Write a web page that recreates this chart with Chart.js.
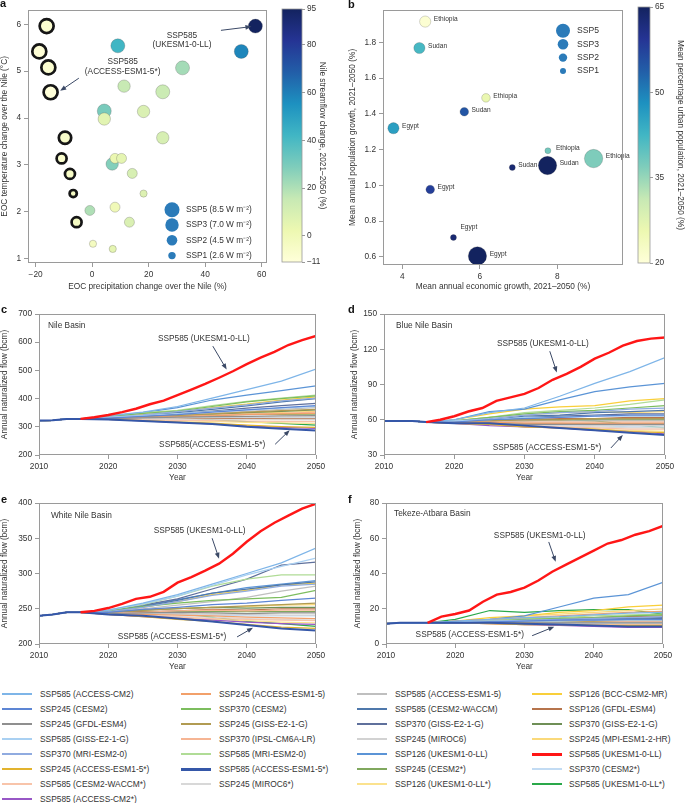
<!DOCTYPE html>
<html lang="en">
<head>
<meta charset="utf-8">
<title>Nile flow scenarios</title>
<script src="https://cdn.jsdelivr.net/npm/chart.js"></script>
<style>
  body { margin: 0; background: #fff; }
  #page { position: relative; width: 685px; height: 803px; overflow: hidden; font-family: "Liberation Sans", Arial, sans-serif; color: #333; }
  #page canvas { position: absolute; }
  .tag { position: absolute; font-weight: bold; font-size: 11px; line-height: 12px; color: #111; }
  .leg { position: absolute; height: 10px; line-height: 10px; font-size: 8.4px; white-space: nowrap; }
  .leg i { position: absolute; left: 0; width: 30px; }
  .leg span { position: absolute; top: 0; }
</style>
</head>
<body>
<div id="page">
  <canvas id="ca" width="280" height="292" style="left:0;top:0"></canvas>
  <canvas id="cabar" width="57" height="300" style="left:270px;top:0"></canvas>
  <canvas id="cb" width="285" height="292" style="left:348px;top:0"></canvas>
  <canvas id="cbbar" width="55" height="300" style="left:630px;top:0"></canvas>
  <canvas id="cc" width="330" height="178" style="left:0;top:305px"></canvas>
  <canvas id="cd" width="330" height="178" style="left:350px;top:305px"></canvas>
  <canvas id="ce" width="330" height="178" style="left:0;top:494px"></canvas>
  <canvas id="cf" width="325" height="178" style="left:353px;top:494px"></canvas>
  <div class="tag" style="left:0;top:-3px">a</div>
  <div class="tag" style="left:348px;top:-2px">b</div>
  <div class="tag" style="left:1px;top:303px">c</div>
  <div class="tag" style="left:348px;top:303px">d</div>
  <div class="tag" style="left:1px;top:493px">e</div>
  <div class="tag" style="left:348px;top:493px">f</div>
  <div id="legend"></div>
</div>
<script>
// ---------- data ----------
// panel a: one bubble per model run
const aPrecip = [-16.1, -18.7, -15.5, -14.7, -9.6, -10.8, -7.85, -6.7, -5.5, 57.8, 52.8, 9.1, 32, 11.3, 25, 4.3, 18.2, 4.3, 25, 7.1, 8.1, 10.4, 14.2, 18.2, 8.1, -0.8, 13.2, 0.3, 7.3];
const aTemp = [5.96, 5.42, 5.08, 4.55, 3.58, 3.14, 2.81, 2.39, 1.78, 5.96, 5.42, 5.54, 5.07, 4.68, 4.56, 4.15, 4.14, 3.98, 3.58, 3.02, 3.14, 3.14, 2.82, 2.39, 2.1, 2.03, 1.78, 1.32, 1.21];
const aFlow = [-8, -10, -8, -11, -6, -7, -5, -4, -4, 95, 58, 42, 22, 15, 14, 30, 9, 6, 10, 28, 3, 5, 10, 8, 0, 20, 9, -3, 5];
const aSsp = [5, 5, 5, 5, 3, 2, 2, 1, 2, 5, 5, 5, 5, 3, 5, 5, 3, 3, 3, 3, 2, 2, 2, 1, 2, 2, 2, 1, 1];
const aOutlined = [1, 1, 1, 1, 1, 1, 1, 1, 1, 0, 0, 0, 0, 0, 0, 0, 0, 0, 0, 0, 0, 0, 0, 0, 0, 0, 0, 0, 0];
const flowTicks = [-11, 0, 20, 40, 60, 80, 95];

// panel b: country x SSP
const bCountry = ['Ethiopia', 'Sudan', 'Ethiopia', 'Sudan', 'Egypt', 'Ethiopia', 'Ethiopia', 'Sudan', 'Sudan', 'Egypt', 'Egypt', 'Egypt'];
const bEcon = [4.59, 4.44, 6.16, 5.6, 3.77, 7.76, 8.94, 6.84, 7.75, 4.72, 5.32, 5.94];
const bPop = [1.917, 1.769, 1.49, 1.412, 1.32, 1.194, 1.15, 1.1, 1.111, 0.977, 0.708, 0.605];
const bUrban = [21, 42, 26, 55, 46, 38, 37, 63, 65, 58, 63, 65];
const bSsp = [3, 3, 2, 2, 3, 1, 5, 1, 5, 2, 1, 5];
const urbanTicks = [20, 35, 50, 65];

// panels c-f: annual naturalized flow (bcm)
const seriesNames = ['SSP585 (ACCESS-CM2)', 'SSP245 (CESM2)', 'SSP245 (GFDL-ESM4)', 'SSP585 (GISS-E2-1-G)', 'SSP370 (MRI-ESM2-0)', 'SSP245 (ACCESS-ESM1-5*)', 'SSP585 (CESM2-WACCM*)', 'SSP585 (ACCESS-CM2*)',
  'SSP245 (ACCESS-ESM1-5)', 'SSP370 (CESM2)', 'SSP245 (GISS-E2-1-G)', 'SSP370 (IPSL-CM6A-LR)', 'SSP585 (MRI-ESM2-0)', 'SSP585 (ACCESS-ESM1-5*)', 'SSP245 (MIROC6*)',
  'SSP585 (ACCESS-ESM1-5)', 'SSP585 (CESM2-WACCM)', 'SSP370 (GISS-E2-1-G)', 'SSP245 (MIROC6)', 'SSP126 (UKESM1-0-LL)', 'SSP245 (CESM2*)', 'SSP126 (UKESM1-0-LL*)',
  'SSP126 (BCC-CSM2-MR)', 'SSP126 (GFDL-ESM4)', 'SSP370 (GISS-E2-1-G)', 'SSP245 (MPI-ESM1-2-HR)', 'SSP585 (UKESM1-0-LL)', 'SSP370 (CESM2*)', 'SSP585 (UKESM1-0-LL*)'];
const histYears = [2010, 2012, 2014, 2016];
const projYears = [2020, 2025, 2030, 2035, 2040, 2045, 2050];
const redYears = [2018, 2020, 2022, 2024, 2026, 2028, 2030, 2032, 2034, 2036, 2038, 2040, 2042, 2044, 2046, 2048, 2050];

const nileHist = [322, 323, 328, 328];
const nileRed = [334, 342, 352, 364, 380, 393, 412, 432, 452, 474, 497, 522, 545, 566, 590, 607, 622];
const nileProj = [
  [340, 352, 372, 402, 432, 462, 505], [331, 337, 343, 352, 360, 368, 375], [329, 332, 334, 336, 337, 339, 340], [333, 340, 347, 354, 360, 366, 372],
  [334, 342, 354, 366, 378, 392, 402], [326, 322, 317, 313, 306, 301, 298], [327, 325, 323, 322, 320, 319, 318], [326, 321, 316, 310, 303, 298, 294],
  [329, 333, 336, 339, 343, 346, 348], [335, 348, 356, 372, 388, 400, 410], [331, 336, 340, 346, 352, 357, 362], [330, 334, 337, 341, 345, 348, 352],
  [336, 350, 358, 375, 390, 402, 412], [326, 321, 315, 310, 300, 293, 287], [327, 326, 326, 325, 326, 325, 325], [330, 334, 340, 348, 355, 362, 368],
  [333, 340, 350, 362, 374, 388, 400], [332, 338, 346, 356, 366, 375, 383], [328, 330, 331, 333, 334, 334, 335], [338, 350, 368, 395, 412, 428, 445],
  [331, 336, 340, 342, 344, 344, 345], [327, 324, 321, 319, 316, 314, 312], [334, 344, 352, 368, 380, 395, 406], [328, 329, 329, 328, 329, 328, 328],
  [330, 333, 338, 344, 350, 355, 360], [332, 337, 342, 345, 348, 351, 355], null, [330, 331, 333, 332, 333, 332, 332], [329, 332, 330, 324, 318, 312, 306]];

const blueHist = [59, 59, 59, 58];
const blueRed = [60, 63, 67, 70, 76, 79, 82, 87, 94, 99, 105, 112, 117, 123, 127, 129, 130];
const blueProj = [
  [60, 66, 70, 80, 91, 101, 113], [58, 60, 61, 62, 63, 64, 64], [57, 57, 56, 56, 56, 56, 56], [59, 60, 62, 62, 63, 63, 63],
  [59, 61, 64, 66, 67, 69, 70], [57, 56, 54, 53, 52, 50, 49], [57, 56, 55, 54, 53, 52, 52], [57, 55, 54, 53, 51, 50, 48],
  [58, 58, 57, 57, 57, 57, 57], [59, 62, 65, 67, 68, 70, 72], [58, 59, 60, 60, 61, 61, 61], [58, 58, 58, 58, 58, 58, 58],
  [59, 62, 66, 68, 70, 73, 77], [57, 57, 55, 53, 51, 49, 47], [57, 56, 55, 55, 54, 53, 53], [58, 58, 59, 59, 59, 59, 59],
  [58, 60, 63, 64, 66, 67, 68], [58, 60, 62, 63, 64, 65, 65], [57, 57, 56, 56, 55, 55, 55], [60, 67, 69, 77, 84, 88, 91],
  [58, 58, 57, 57, 56, 56, 56], [57, 56, 54, 53, 52, 51, 50], [60, 65, 69, 71, 72, 76, 78], [58, 59, 60, 61, 61, 62, 62],
  [58, 59, 59, 60, 60, 60, 60], [59, 62, 64, 66, 67, 66, 67], null, [58, 57, 56, 55, 55, 54, 54], [59, 60, 61, 60, 59, 56, 53]];

const whiteHist = [240, 242, 245, 245];
const whiteRed = [247, 251, 257, 264, 267, 274, 287, 295, 304, 314, 328, 345, 360, 372, 382, 392, 399];
const whiteProj = [
  [248, 258, 270, 285, 300, 315, 336], [245, 249, 252, 256, 258, 262, 265], [243, 244, 245, 244, 243, 244, 244], [248, 257, 268, 283, 298, 310, 322],
  [246, 252, 260, 269, 275, 282, 285], [242, 239, 235, 232, 228, 224, 222], [242, 240, 238, 236, 235, 234, 233], [242, 239, 236, 234, 231, 229, 228],
  [243, 242, 241, 240, 238, 237, 236], [247, 253, 258, 262, 264, 266, 276], [245, 248, 250, 252, 254, 256, 258], [244, 245, 247, 248, 247, 248, 248],
  [248, 256, 268, 282, 292, 298, 298], [242, 240, 236, 232, 227, 222, 219], [243, 241, 239, 238, 236, 235, 234], [245, 250, 255, 260, 266, 275, 282],
  [246, 253, 262, 272, 278, 284, 288], [247, 255, 264, 278, 292, 312, 316], [243, 243, 243, 242, 242, 241, 241], [247, 254, 263, 272, 280, 285, 290],
  [244, 245, 246, 246, 246, 246, 246], [242, 240, 237, 235, 233, 231, 230], [246, 252, 260, 270, 276, 284, 286], [244, 246, 247, 249, 248, 250, 250],
  [245, 248, 250, 252, 251, 252, 252], [244, 248, 251, 252, 253, 255, 256], null, [243, 242, 242, 241, 240, 240, 240], [244, 246, 243, 238, 232, 229, 225]];

const tekezeHist = [11.5, 12, 12, 12];
const tekezeRed = [15.5, 17, 19, 24, 28, 29.5, 32, 36, 41, 45, 49, 53, 57, 59, 62, 64, 67];
const tekezeProj = [
  [13, 14, 15, 15.5, 16.5, 17.5, 18], [12, 12.5, 13, 13.5, 13.5, 14, 14], [12, 12, 12, 12, 12, 12, 12], [12.5, 13, 13, 13, 13.5, 13.5, 13.5],
  [12.5, 13, 13.5, 14, 14.5, 15, 15.5], [12, 11.5, 11, 11, 10.5, 10.5, 10.5], [12, 11.5, 11.5, 11, 11, 11, 11], [12, 11.5, 11, 10.5, 10, 9.5, 9.5],
  [13, 14, 15, 16, 17, 18, 18.5], [12.5, 13, 14, 14.5, 15, 16, 16.5], [12, 12.5, 12.5, 13, 13, 13.5, 13.5], [12, 12.5, 12.5, 13, 13, 13, 13],
  [12.5, 13.5, 14.5, 15, 16, 16.5, 17], [12, 12, 11.5, 11, 10.5, 10, 10], [12, 12, 11.5, 11.5, 11, 11, 11], [12, 12, 12.5, 12.5, 13, 13, 13],
  [12, 13, 13, 14, 14, 14.5, 15], [12, 12.5, 13, 13.5, 14, 14, 14.5], [12, 12, 12, 11.5, 12, 12, 12], [13, 14, 16, 21, 26, 28, 35],
  [12, 12, 12.5, 12.5, 12.5, 12.5, 12.5], [12, 11.5, 11, 11, 10.5, 10.5, 10.5], [13, 15, 16, 18, 19, 21, 22], [12, 13, 13.5, 14, 15, 15.5, 16],
  [12, 12.5, 13, 13, 13.5, 14, 14], [13, 14, 16, 17, 18, 19, 20], null, [12, 12, 12, 11.5, 11.5, 11.5, 11.5], [14, 19, 18, 19, 19.5, 19.5, 17]];

// ---------- styling ----------
const seriesColors = ['#7eb5e8', '#5d86d4', '#8f8f8f', '#a9d0f2', '#90abe0', '#e2b32e', '#f8c4aa', '#9857c6',
  '#f2a06a', '#7cbd5e', '#b19b52', '#f6b594', '#b0dc96', '#3557a8', '#d8d8d8',
  '#bfbfbf', '#4f78ab', '#5f709c', '#d2d2d2', '#5b94d6', '#80a85e', '#fbe28e',
  '#f9cf3a', '#b6744c', '#6f8f56', '#fad97a', '#ff1616', '#c2dbf3', '#2aa84a'];
const RED = seriesNames.indexOf('SSP585 (UKESM1-0-LL)');
const THICK = seriesNames.indexOf('SSP585 (ACCESS-ESM1-5*)');
const FONT = '"Liberation Sans", Arial, sans-serif';
const GRAY = '#9a9a9a';
const ARROW = '#3b4966';
const KEY_BLUE = '#2b7bb9';

Chart.defaults.font.family = FONT;
Chart.defaults.font.size = 8.3;
Chart.defaults.color = '#333';

const YLGNBU = ['#ffffd9', '#edf8b1', '#c7e9b4', '#7fcdbb', '#41b6c4', '#1d91c0', '#225ea8', '#253494', '#13235f'];
function hexRgb(h) { return [1, 3, 5].map(i => parseInt(h.slice(i, i + 2), 16)); }
function cmap(t) {
  t = Math.max(0, Math.min(1, t));
  const p = t * (YLGNBU.length - 1);
  const i = Math.min(Math.floor(p), YLGNBU.length - 2);
  const a = hexRgb(YLGNBU[i]), b = hexRgb(YLGNBU[i + 1]);
  return 'rgb(' + a.map((v, k) => Math.round(v + (b[k] - v) * (p - i))).join(',') + ')';
}
const minus = v => String(v).replace('-', '\u2212');

// ---------- plugins ----------
const framePlugin = {
  id: 'frame',
  afterDraw(chart) {
    const {ctx, chartArea: a} = chart;
    ctx.save();
    ctx.strokeStyle = GRAY;
    ctx.lineWidth = 1;
    ctx.strokeRect(Math.round(a.left) + 0.5, Math.round(a.top) + 0.5, Math.round(a.width) - 1, Math.round(a.height) - 1);
    ctx.restore();
  }
};

function drawArrow(ctx, x1, y1, x2, y2) {
  const ang = Math.atan2(y2 - y1, x2 - x1);
  ctx.beginPath();
  ctx.moveTo(x1, y1);
  ctx.lineTo(x2 - 3 * Math.cos(ang), y2 - 3 * Math.sin(ang));
  ctx.stroke();
  ctx.beginPath();
  ctx.moveTo(x2, y2);
  ctx.lineTo(x2 - 6 * Math.cos(ang) + 2.4 * Math.sin(ang), y2 - 6 * Math.sin(ang) - 2.4 * Math.cos(ang));
  ctx.lineTo(x2 - 6 * Math.cos(ang) - 2.4 * Math.sin(ang), y2 - 6 * Math.sin(ang) + 2.4 * Math.cos(ang));
  ctx.closePath();
  ctx.fill();
}

// text notes + arrows given in data units
const notesPlugin = {
  id: 'notes',
  afterDatasetsDraw(chart, args, opts) {
    const {ctx, chartArea: a, scales: {x, y}} = chart;
    ctx.save();
    ctx.font = '8.3px ' + FONT;
    ctx.fillStyle = '#333';
    ctx.textBaseline = 'middle';
    if (opts.title) {
      ctx.textAlign = 'left';
      ctx.fillText(opts.title, a.left + opts.titleDx, a.top + opts.titleDy);
    }
    ctx.textAlign = 'center';
    (opts.texts || []).forEach(n => ctx.fillText(n.t, x.getPixelForValue(n.x), y.getPixelForValue(n.y)));
    ctx.strokeStyle = ARROW;
    ctx.fillStyle = ARROW;
    ctx.lineWidth = 1;
    (opts.arrows || []).forEach(r => drawArrow(ctx, x.getPixelForValue(r[0]), y.getPixelForValue(r[1]), x.getPixelForValue(r[2]), y.getPixelForValue(r[3])));
    ctx.restore();
  }
};

// bubble size key inside the plot
const sspKeyPlugin = {
  id: 'sspKey',
  afterDatasetsDraw(chart, args, o) {
    const {ctx, chartArea: a} = chart;
    ctx.save();
    ctx.font = o.size + 'px ' + FONT;
    ctx.textBaseline = 'middle';
    ctx.textAlign = 'left';
    o.items.forEach((it, k) => {
      const cy = a.top + o.y0 + k * o.step;
      ctx.beginPath();
      ctx.arc(a.left + o.x, cy, it[1], 0, Math.PI * 2);
      ctx.fillStyle = KEY_BLUE;
      ctx.fill();
      ctx.fillStyle = '#333';
      ctx.fillText(it[0], a.left + o.tx, cy);
    });
    ctx.restore();
  }
};

const countryPlugin = {
  id: 'countries',
  afterDatasetsDraw(chart, args, o) {
    const {ctx} = chart;
    const pts = chart.getDatasetMeta(0).data;
    ctx.save();
    ctx.font = '6.6px ' + FONT;
    ctx.fillStyle = '#333';
    ctx.textBaseline = 'middle';
    pts.forEach((p, i) => {
      const s = o.shift[i] || [B_RADIUS[bSsp[i]] + 3, -2];
      ctx.fillText(bCountry[i], p.x + s[0], p.y + s[1]);
    });
    ctx.restore();
  }
};

function gradientPlugin() {
  return {
    id: 'gradient',
    beforeDatasetsDraw(chart) {
      const {ctx, chartArea: a} = chart;
      const g = ctx.createLinearGradient(0, a.bottom, 0, a.top);
      YLGNBU.forEach((c, k) => g.addColorStop(k / (YLGNBU.length - 1), c));
      ctx.save();
      ctx.fillStyle = g;
      ctx.fillRect(a.left, a.top, a.width, a.height);
      ctx.strokeStyle = GRAY;
      ctx.lineWidth = 0.8;
      ctx.strokeRect(a.left, a.top, a.width, a.height);
      ctx.restore();
    }
  };
}

// ---------- axes ----------
function axis(opts) {
  const horiz = opts.horiz;
  return {
    type: 'linear',
    position: opts.position,
    min: opts.min,
    max: opts.max,
    afterBuildTicks: s => { s.ticks = opts.ticks.map(v => ({value: v})); },
    afterFit: s => { if (horiz) s.height = opts.size; else s.width = opts.size; },
    ticks: {autoSkip: false, maxRotation: 0, padding: opts.pad || 3, callback: opts.fmt || (v => minus(v))},
    grid: {drawOnChartArea: false, tickLength: opts.tick || 4, color: GRAY},
    border: {display: false},
    title: {display: true, text: opts.title, padding: 0}
  };
}

const baseOptions = {
  responsive: false,
  animation: false,
  devicePixelRatio: 1,
  events: []
};

// ---------- panel a ----------
const FLOW_MIN = -11, FLOW_MAX = 95;
const A_RADIUS = {5: 7, 3: 6.2, 2: 5, 1: 3.6};
new Chart(document.getElementById('ca'), {
  type: 'scatter',
  data: {datasets: [{
    data: aPrecip.map((v, i) => ({x: v, y: aTemp[i]})),
    pointRadius: aSsp.map(s => A_RADIUS[s]),
    pointBackgroundColor: aFlow.map(v => cmap((v - FLOW_MIN) / (FLOW_MAX - FLOW_MIN))),
    pointBorderColor: aOutlined.map(o => o ? '#161616' : 'rgba(80,80,80,0.45)'),
    pointBorderWidth: aOutlined.map(o => o ? 2.7 : 0.6)
  }]},
  options: Object.assign({}, baseOptions, {
    layout: {padding: {top: 4, right: 13}},
    scales: {
      x: axis({horiz: true, min: -22.7, max: 61.9, ticks: [-20, 0, 20, 40, 60], size: 29, title: 'EOC precipitation change over the Nile (%)'}),
      y: axis({min: 0.91, max: 6.31, ticks: [1, 2, 3, 4, 5, 6], size: 28, title: 'EOC temperature change over the Nile (\u00b0C)'})
    },
    plugins: {
      legend: {display: false}, tooltip: {enabled: false},
      notes: {
        texts: [{t: 'SSP585', x: 31.8, y: 5.76}, {t: '(UKESM1-0-LL)', x: 31.8, y: 5.56},
                {t: 'SSP585', x: 10.8, y: 5.2}, {t: '(ACCESS-ESM1-5*)', x: 10.8, y: 4.99}],
        arrows: [[45.6, 5.87, 56.4, 5.95], [-4.7, 4.85, -11.3, 4.58]]
      },
      sspKey: {x: 144, y0: 200, step: 15.3, tx: 158, size: 8.3,
        items: [['SSP5 (8.5 W m\u207b\u00b2)', 7.5], ['SSP3 (7.0 W m\u207b\u00b2)', 6.7], ['SSP2 (4.5 W m\u207b\u00b2)', 5.3], ['SSP1 (2.6 W m\u207b\u00b2)', 3.7]]}
    }
  }),
  plugins: [framePlugin, notesPlugin, sspKeyPlugin]
});

function colorbar(id, min, max, ticks, title, pad, width) {
  new Chart(document.getElementById(id), {
    type: 'scatter',
    data: {datasets: []},
    options: Object.assign({}, baseOptions, {
      layout: {padding: pad},
      scales: {
        x: {display: false, min: 0, max: 1},
        y: axis({position: 'right', min, max, ticks, size: width, tick: 3, pad: 2, title})
      },
      plugins: {legend: {display: false}, tooltip: {enabled: false}}
    }),
    plugins: [gradientPlugin()]
  });
}
colorbar('cabar', FLOW_MIN, FLOW_MAX, flowTicks, 'Nile streamflow change, 2021\u20132050 (%)', {left: 12, top: 9, bottom: 38}, 25);

// ---------- panel b ----------
const URB_MIN = 20, URB_MAX = 65;
const B_RADIUS = {5: 9.2, 3: 5.6, 2: 4.3, 1: 3};
new Chart(document.getElementById('cb'), {
  type: 'scatter',
  data: {datasets: [{
    data: bEcon.map((v, i) => ({x: v, y: bPop[i]})),
    pointRadius: bSsp.map(s => B_RADIUS[s]),
    pointBackgroundColor: bUrban.map(v => cmap((v - URB_MIN) / (URB_MAX - URB_MIN))),
    pointBorderColor: 'rgba(60,60,60,0.35)',
    pointBorderWidth: 0.6
  }]},
  options: Object.assign({}, baseOptions, {
    layout: {padding: {top: 7, right: 10}},
    scales: {
      x: axis({horiz: true, min: 3.5, max: 9.7, ticks: [4, 6, 8], size: 27, title: 'Mean annual economic growth, 2021\u20132050 (%)'}),
      y: axis({min: 0.554, max: 1.983, ticks: [0.6, 0.8, 1.0, 1.2, 1.4, 1.6, 1.8], size: 35, fmt: v => v.toFixed(1), title: 'Mean annual population growth, 2021\u20132050 (%)'})
    },
    plugins: {
      legend: {display: false}, tooltip: {enabled: false},
      countries: {shift: {5: [8, -3], 10: [7, -10]}},
      sspKey: {x: 180, y0: 21, step: 13.4, tx: 194, size: 8.6,
        items: [['SSP5', 7], ['SSP3', 5.3], ['SSP2', 4.2], ['SSP1', 3]]}
    }
  }),
  plugins: [framePlugin, countryPlugin, sspKeyPlugin]
});
colorbar('cbbar', URB_MIN, URB_MAX, urbanTicks, 'Mean percentage urban population, 2021\u20132050 (%)', {left: 8, top: 7, bottom: 37}, 35);

// ---------- panels c-f ----------
function flowSets(hist, proj, red) {
  return seriesNames.map((name, i) => {
    let pts;
    if (i === RED) {
      pts = [{x: histYears[histYears.length - 1], y: hist[hist.length - 1]}]
        .concat(redYears.map((yr, k) => ({x: yr, y: red[k]})));
    } else {
      pts = histYears.map((yr, k) => ({x: yr, y: hist[k]}))
        .concat(projYears.map((yr, k) => ({x: yr, y: proj[i][k]})));
    }
    return {
      label: name, data: pts, borderColor: seriesColors[i],
      borderWidth: i === RED ? 2.4 : (i === THICK ? 2 : 1.25),
      pointRadius: 0, tension: 0,
      order: i === RED ? 0 : (i === THICK ? 1 : 2)
    };
  });
}

function flowChart(id, sets, yMin, yMax, yTicks, yW, right, title, titleDx, titleDy, notes) {
  new Chart(document.getElementById(id), {
    type: 'line',
    data: {datasets: sets},
    options: Object.assign({}, baseOptions, {
      layout: {padding: {top: 9, right}},
      scales: {
        x: axis({horiz: true, min: 2010, max: 2050, ticks: [2010, 2020, 2030, 2040, 2050], size: 28, fmt: v => String(v), title: 'Year'}),
        y: axis({min: yMin, max: yMax, ticks: yTicks, size: yW, title: 'Annual naturalized flow (bcm)'})
      },
      plugins: {
        legend: {display: false}, tooltip: {enabled: false},
        notes: Object.assign({title, titleDx, titleDy}, notes)
      }
    }),
    plugins: [framePlugin, notesPlugin]
  });
}

flowChart('cc', flowSets(nileHist, nileProj, nileRed), 200, 700, [200, 300, 400, 500, 600, 700], 39, 14, 'Nile Basin', 9, 12, {
  texts: [{t: 'SSP585 (UKESM1-0-LL)', x: 2033.8, y: 614}, {t: 'SSP585(ACCESS-ESM1-5*)', x: 2035, y: 238}],
  arrows: [[2035.1, 586, 2037.1, 503], [2044.1, 238, 2046.2, 288]]
});
flowChart('cd', flowSets(blueHist, blueProj, blueRed), 30, 150, [30, 60, 90, 120, 150], 34, 15, 'Blue Nile Basin', 12, 12, {
  texts: [{t: 'SSP585 (UKESM1-0-LL)', x: 2032.6, y: 125}, {t: 'SSP585 (ACCESS-ESM1-5*)', x: 2033.2, y: 36}],
  arrows: [[2033.6, 118.3, 2034.6, 100.3], [2042.3, 36, 2044, 47]]
});
flowChart('ce', flowSets(whiteHist, whiteProj, whiteRed), 200, 400, [200, 250, 300, 350, 400], 39, 14, 'White Nile Basin', 12, 13, {
  texts: [{t: 'SSP585 (UKESM1-0-LL)', x: 2033.2, y: 360}, {t: 'SSP585 (ACCESS-ESM1-5*)', x: 2029.2, y: 210}],
  arrows: [[2035, 350, 2036, 321], [2038.6, 210, 2040.9, 223]]
});
flowChart('cf', flowSets(tekezeHist, tekezeProj, tekezeRed), 0, 80, [0, 20, 40, 60, 80], 33, 15, 'Tekeze-Atbara Basin', 8, 11, {
  texts: [{t: 'SSP585 (UKESM1-0-LL)', x: 2032.2, y: 61.7}, {t: 'SSP585 (ACCESS-ESM1-5*)', x: 2022.1, y: 5.1}],
  arrows: [[2033.5, 57.9, 2034.5, 46.6], [2031.1, 4.7, 2034.3, 9.8]]
});

// ---------- shared legend ----------
const legCols = [[0, 8, 2, 38], [8, 15, 181, 38], [15, 22, 357, 38], [22, 29, 532, 37]];
const legend = document.getElementById('legend');
legCols.forEach(([from, to, left, gap]) => {
  for (let i = from; i < to; i++) {
    const row = i - from;
    const lw = (i === RED || i === THICK) ? 3 : 2;
    const div = document.createElement('div');
    div.className = 'leg';
    div.style.left = left + 'px';
    div.style.top = (689 + row * 15) + 'px';
    div.innerHTML = '<i style="top:' + (5 - lw / 2) + 'px;height:' + lw + 'px;background:' + seriesColors[i] + '"></i>' +
      '<span style="left:' + gap + 'px">' + seriesNames[i] + '</span>';
    legend.appendChild(div);
  }
});
</script>
</body>
</html>
